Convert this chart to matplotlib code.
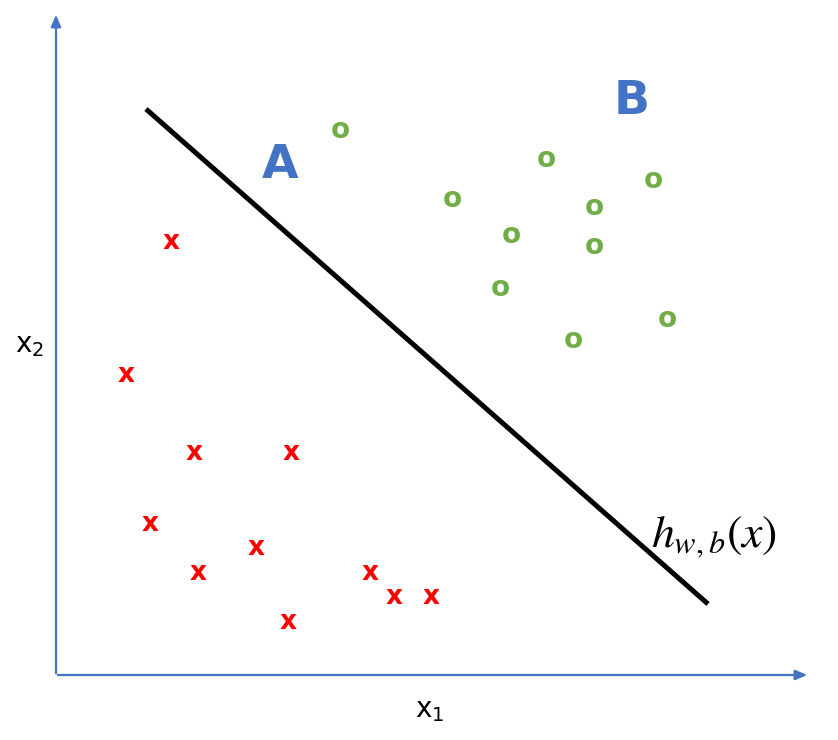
import matplotlib
matplotlib.use("Agg")
import matplotlib.pyplot as plt

# point positions (pixel coords, y down)
class_a_x = [171, 126, 194, 291, 150, 256, 198, 370, 394, 431, 288]
class_a_y = [242, 375, 453, 453, 524, 548, 573, 573, 597, 597, 622]
class_b_x = [340, 546, 452, 653, 594, 511, 594, 500, 667, 573]
class_b_y = [130, 159, 199, 180, 207, 235, 246, 288, 319, 340]
boundary_x = [146, 708]
boundary_y = [109, 604]

blue = "#4472C4"
red = "#FF0000"
green = "#70AD47"

plt.rcParams["mathtext.fontset"] = "stix"

fig = plt.figure(figsize=(8.38, 7.4), dpi=100)
ax = fig.add_axes([0, 0, 1, 1])
ax.set_xlim(0, 838)
ax.set_ylim(740, 0)
ax.axis("off")

# axis arrows
ax.annotate("", xy=(56, 12), xytext=(56, 676),
            arrowprops=dict(arrowstyle="-|>,head_length=0.7,head_width=0.3", color=blue, lw=1.6))
ax.annotate("", xy=(810, 675), xytext=(55, 675),
            arrowprops=dict(arrowstyle="-|>,head_length=0.7,head_width=0.3", color=blue, lw=1.6))

ax.text(30, 345, r"$\mathregular{x_2}$", fontsize=20, family="DejaVu Sans", ha="center", va="center")
ax.text(430, 710, r"$\mathregular{x_1}$", fontsize=20, family="DejaVu Sans", ha="center", va="center")

for x, y in zip(class_a_x, class_a_y):
    ax.text(x, y, "x", color=red, fontsize=19, fontweight="bold", ha="center", va="center")
for x, y in zip(class_b_x, class_b_y):
    ax.text(x, y, "o", color=green, fontsize=20, fontweight="semibold", ha="center", va="center")

ax.plot(boundary_x, boundary_y, color="black", lw=3.6, solid_capstyle="butt")

ax.text(280, 165, "A", color=blue, fontsize=34, fontweight="bold", ha="center", va="center")
ax.text(632, 101, "B", color=blue, fontsize=34, fontweight="bold", ha="center", va="center")
ax.text(714, 537, r"$h_{w,b}\left(x\right)$", fontsize=33, ha="center", va="center")

fig.savefig("out.png", dpi=100)
